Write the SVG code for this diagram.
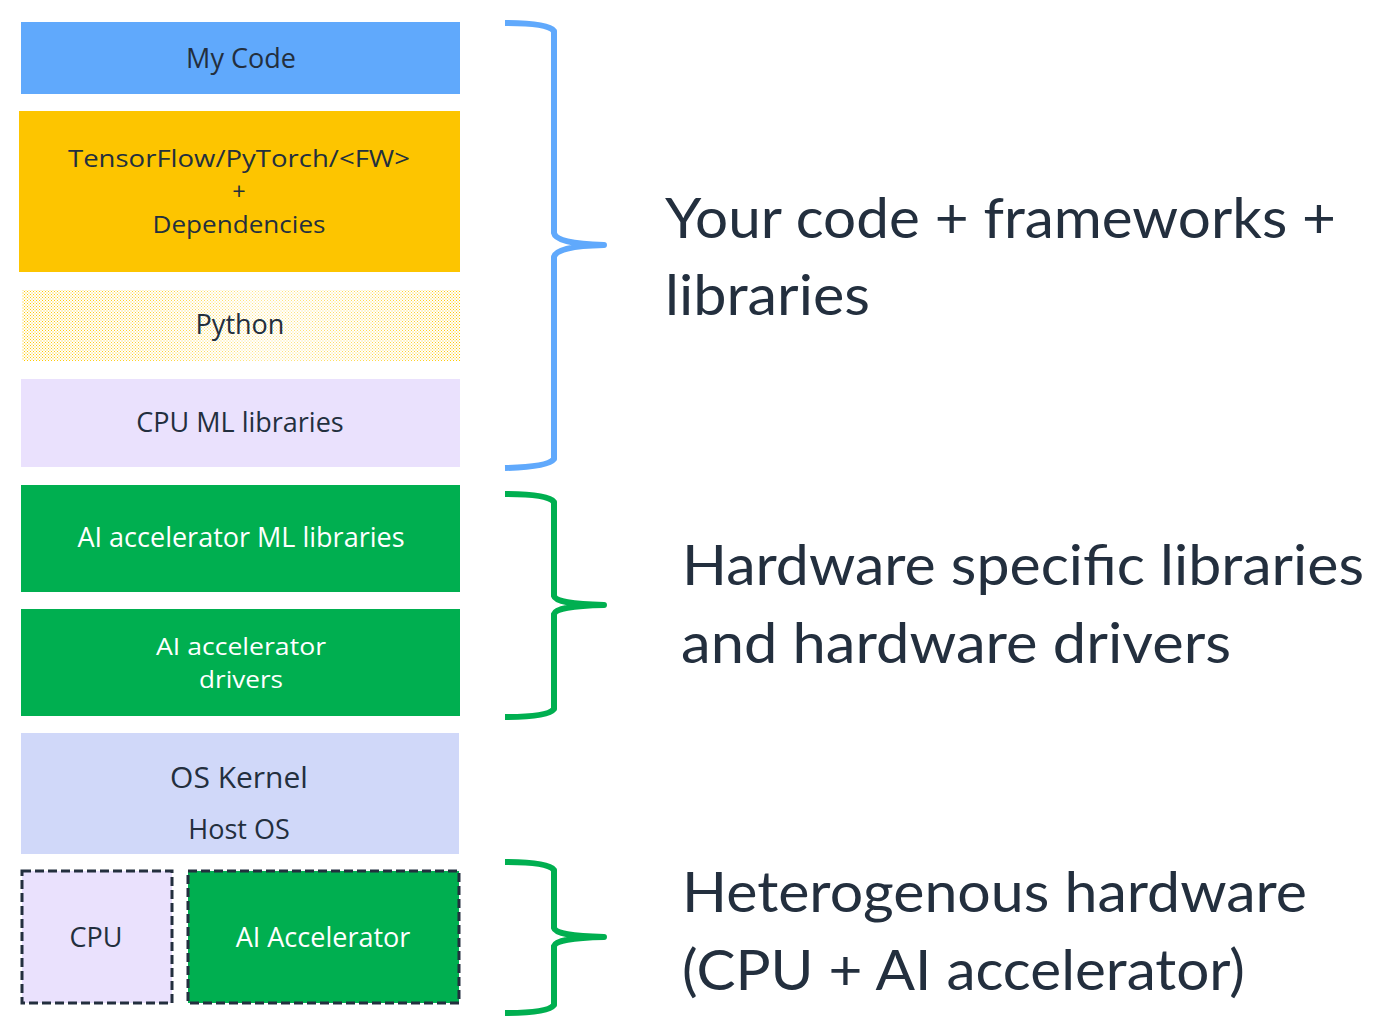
<svg xmlns="http://www.w3.org/2000/svg" width="1400" height="1028" viewBox="0 0 1400 1028">
  <defs>
    <pattern id="dots" width="3" height="3" patternUnits="userSpaceOnUse">
      <rect x="0" y="0" width="1" height="1" fill="#FFC800"/>
      <rect x="1.5" y="1.5" width="1" height="1" fill="#FFC800"/>
    </pattern>
    <linearGradient id="fade" x1="0" y1="0" x2="1" y2="0">
      <stop offset="0" stop-color="#fff" stop-opacity="0"/>
      <stop offset="0.3" stop-color="#fff" stop-opacity="0.2"/>
      <stop offset="0.55" stop-color="#fff" stop-opacity="0.55"/>
      <stop offset="0.85" stop-color="#fff" stop-opacity="0.25"/>
      <stop offset="1" stop-color="#fff" stop-opacity="0"/>
    </linearGradient>
    <style>
      .lbl { font-family: "Open Sans", "Liberation Sans", sans-serif; font-size: 27px; fill: #232F3E; text-anchor: middle; }
      .tight { font-size: 23.5px; }
      .wht { fill: #FFFFFF; }
      .big { font-family: Lato, "Open Sans", "Liberation Sans", sans-serif; font-size: 56px; fill: #232F3E; }
      .dash { stroke: #232F3E; stroke-width: 3; stroke-dasharray: 9 4; }
      .brace { fill: none; stroke-width: 6; stroke-linecap: butt; stroke-linejoin: round; }
    </style>
  </defs>
  <rect width="1400" height="1028" fill="#FFFFFF"/>

  <g id="my-code">
    <rect x="21" y="22" width="439" height="72" fill="#60A9FC"/>
    <text class="lbl" x="241" y="68">My Code</text>
  </g>

  <g id="frameworks">
    <rect x="19" y="111" width="441" height="161" fill="#FDC500"/>
    <text class="lbl tight" x="239" y="167" textLength="342" lengthAdjust="spacingAndGlyphs">TensorFlow/PyTorch/&lt;FW&gt;</text>
    <text class="lbl tight" x="239" y="200">+</text>
    <text class="lbl tight" x="239" y="233" textLength="173" lengthAdjust="spacingAndGlyphs">Dependencies</text>
  </g>

  <g id="python">
    <rect x="22" y="290" width="438" height="71" fill="url(#dots)"/>
    <rect x="22" y="290" width="438" height="71" fill="url(#fade)"/>
    <text class="lbl" x="240" y="334">Python</text>
  </g>

  <g id="cpu-ml-libraries">
    <rect x="21" y="379" width="439" height="88" fill="#EAE1FD"/>
    <text class="lbl" x="240" y="432">CPU ML libraries</text>
  </g>

  <g id="ai-ml-libraries">
    <rect x="21" y="485" width="439" height="107" fill="#00AF50"/>
    <text class="lbl wht" x="241" y="547">AI accelerator ML libraries</text>
  </g>

  <g id="ai-drivers">
    <rect x="21" y="609" width="439" height="107" fill="#00AF50"/>
    <text class="lbl wht tight" x="241" y="655" textLength="170" lengthAdjust="spacingAndGlyphs">AI accelerator</text>
    <text class="lbl wht tight" x="241" y="688" textLength="84" lengthAdjust="spacingAndGlyphs">drivers</text>
  </g>

  <g id="os-kernel">
    <rect x="21" y="733" width="438" height="121" fill="#D0D8F9"/>
    <text class="lbl" x="239" y="788" style="font-size:30px">OS Kernel</text>
    <text class="lbl" x="239" y="839">Host OS</text>
  </g>

  <g id="cpu">
    <rect x="22" y="871" width="150" height="132" fill="#EAE1FD" class="dash"/>
    <text class="lbl" x="96" y="947">CPU</text>
  </g>

  <g id="ai-accelerator">
    <rect x="188" y="871" width="271" height="132" fill="#00AF50" class="dash"/>
    <text class="lbl wht" x="323" y="947">AI Accelerator</text>
  </g>

  <g id="connectors">
    <path class="brace" stroke="#60A9FC" d="M505,23 Q548,23 554,31 L554,233 Q556,244 604,245 Q556,246 554,257 L554,459 Q548,467 505,468"/>
    <path class="brace" stroke="#00AF50" d="M505,494 Q548,494 554,502 L554,596 Q556,604 604,605 Q556,606 554,614 L554,709 Q548,717 505,717"/>
    <path class="brace" stroke="#00AF50" d="M505,862 Q548,862 554,870 L554,928 Q556,936 604,937 Q556,938 554,946 L554,1005 Q548,1013 505,1013"/>
  </g>

  <g id="label-top">
    <text class="big" x="665" y="238" textLength="671" lengthAdjust="spacingAndGlyphs">Your code + frameworks +</text>
    <text class="big" x="665" y="315" textLength="205" lengthAdjust="spacingAndGlyphs">libraries</text>
  </g>
  <g id="label-mid">
    <text class="big" x="682" y="585" textLength="682" lengthAdjust="spacingAndGlyphs">Hardware specific libraries</text>
    <text class="big" x="681" y="663" textLength="550" lengthAdjust="spacingAndGlyphs">and hardware drivers</text>
  </g>
  <g id="label-bottom">
    <text class="big" x="682" y="912" textLength="625" lengthAdjust="spacingAndGlyphs">Heterogenous hardware</text>
    <text class="big" x="682" y="990" textLength="563" lengthAdjust="spacingAndGlyphs">(CPU + AI accelerator)</text>
  </g>
</svg>
